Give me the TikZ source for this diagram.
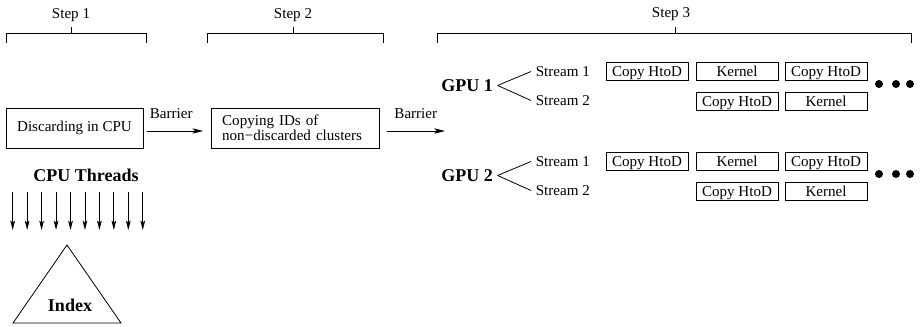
\documentclass[tikz,border=0pt]{standalone}
\usepackage{fontspec}
\setmainfont{Liberation Serif}
\usetikzlibrary{arrows.meta,positioning}
\tikzset{
  txt/.style={font=\fontsize{11.3}{11.5}\selectfont},
  bold/.style={font=\fontsize{13.5}{15}\selectfont\bfseries},
  stagebox/.style={draw, txt, minimum height=30pt},
  opbox/.style={draw, txt, inner sep=0pt, text height=10pt, text depth=2.5pt, minimum width=61.5pt, minimum height=13pt},
  barrow/.style={-{Stealth[length=8pt,width=4pt,inset=2pt]}},
  tarrow/.style={-{Stealth[length=7pt,width=3.5pt,inset=1.5pt]}},
}
\begin{document}
\begin{tikzpicture}[x=0.75pt, y=-0.75pt, line width=0.6pt]
	\useasboundingbox (0,0) rectangle (922,327);
	% step brackets
	\draw (6,43) -- (6,33) -- (146,33) -- (146,43) (71,33) -- (71,27);
	\node[txt, anchor=base] (step1) at (71,19) {Step 1};
	\draw (207,43) -- (207,33) -- (383,33) -- (383,43) (293,33) -- (293,27);
	\node[txt, anchor=base] (step2) at (293,19) {Step 2};
	\draw (437,43) -- (437,33) -- (911,33) -- (911,43) (675,33) -- (675,27);
	\node[txt, anchor=base] (step3) at (671,18) {Step 3};
	% cpu side
	\node[stagebox, minimum width=102.75pt] (discard) at (74.5,128) {Discarding in CPU};
	\node[stagebox, text width=110pt, inner xsep=8pt, align=left] (copyids) at (295.5,128) {Copying IDs of\\non−discarded clusters};
	\coordinate (gpuin) at (445,131);
	\draw[barrow] ([xshift=3pt,yshift=-2.25pt]discard.east) -- ([xshift=-6pt,yshift=-2.25pt]copyids.west) node[midway, above=6pt, txt, xshift=-3pt] (bar1) {Barrier};
	\draw[barrow] ([xshift=5pt,yshift=-2.25pt]copyids.east) -- (gpuin) node[midway, above=6pt, txt] (bar2) {Barrier};
	\node[bold] (threads) at (86,175) {CPU Threads};
	\foreach \i in {0,...,9}
		\draw[tarrow] (12.7+14.45*\i,192) -- (12.7+14.45*\i,230);
	\draw (67,245) -- (121,323) -- (13,323) -- cycle;
	\node[bold] (index) at (70,305) {Index};
	% gpus and streams
	\foreach \g/\y in {1/71.5, 2/161.5} {
		\node[bold] (gpu\g) at (467,\y+14) {GPU \g};
		\node[txt, anchor=west] (stream\g-1) at (531,\y) {Stream 1};
		\node[txt, anchor=west] (stream\g-2) at (531,\y+29) {Stream 2};
		\draw (gpu\g.east) -- (stream\g-1.west);
		\draw (gpu\g.east) -- (stream\g-2.west);
		\node[opbox] (copy\g-1) at (647,\y) {Copy HtoD};
		\node[opbox] (kernel\g-1) at (737,\y) {Kernel};
		\node[opbox] (copy\g-2) at (826,\y) {Copy HtoD};
		\node[opbox] (copy\g-3) at (737,\y+30) {Copy HtoD};
		\node[opbox] (kernel\g-2) at (826,\y+30) {Kernel};
		\foreach \x in {879,896,910}
			\fill (\x,\y+12.5) circle (3pt);
	}
\end{tikzpicture}
\end{document}
